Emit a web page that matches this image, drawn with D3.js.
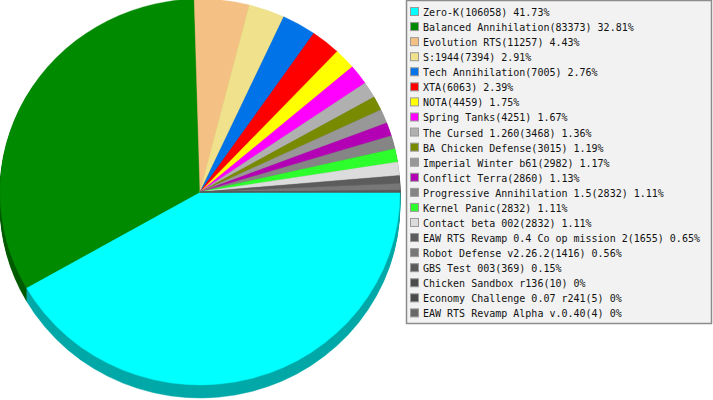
<!DOCTYPE html>
<html><head><meta charset="utf-8">
<script src="https://cdn.jsdelivr.net/npm/d3@7"></script>
<style>html,body{margin:0;padding:0;background:#fff;}svg{display:block;}</style>
</head><body>
<svg id="chart" width="713" height="400"></svg>
<script>
const names = ["Zero-K","Balanced Annihilation","Evolution RTS","S:1944","Tech Annihilation","XTA","NOTA","Spring Tanks","The Cursed 1.260","BA Chicken Defense","Imperial Winter b61","Conflict Terra","Progressive Annihilation 1.5","Kernel Panic","Contact beta 002","EAW RTS Revamp 0.4 Co op mission 2","Robot Defense v2.26.2","GBS Test 003","Chicken Sandbox r136","Economy Challenge 0.07 r241","EAW RTS Revamp Alpha v.0.40"];
const counts = [106058,83373,11257,7394,7005,6063,4459,4251,3468,3015,2982,2860,2832,2832,2832,1655,1416,369,10,5,4];
const colors = ["#00ffff","#008a00","#f5c083","#f0e28c","#0073e8","#ff0000","#ffff00","#ff00ff","#b0b0b0","#788a00","#989898","#b400b4","#858585","#2cff2c","#dcdcdc","#5c5c5c","#777777","#5a5a5a","#4c4c4c","#4a4a4a","#686868"];

const svg = d3.select("#chart");
const total = d3.sum(counts);
const data = names.map((n,i)=>({name:n,value:counts[i],color:colors[i]}));

const cx = 200, cy = 192, rx = 200, ry = 193, depth = 13;
const pie = d3.pie().value(d=>d.value).sort(null).startAngle(Math.PI/2).endAngle(Math.PI/2 + 2*Math.PI);
const arcs = pie(data);
const arc = d3.arc().innerRadius(0).outerRadius(rx);

function dark(c){ const r = d3.rgb(c); return d3.rgb(r.r*0.66, r.g*0.66, r.b*0.66).toString(); }

const pg = svg.append("g");
for (let d = depth; d >= 1; d--) {
  pg.append("g")
    .attr("transform", `translate(${cx},${cy + d}) scale(1,${ry/rx})`)
    .selectAll("path").data(arcs).join("path")
    .attr("d", arc).attr("fill", a=>dark(a.data.color))
    .attr("stroke", a=>dark(a.data.color)).attr("stroke-width", 0.5);
}
pg.append("g")
  .attr("transform", `translate(${cx},${cy}) scale(1,${ry/rx})`)
  .selectAll("path").data(arcs).join("path")
  .attr("d", arc).attr("fill", a=>a.data.color)
  .attr("stroke", a=>a.data.color).attr("stroke-width", 0.4);

// legend
const lg = svg.append("g");
lg.append("rect").attr("x",406.5).attr("y",0.5).attr("width",305).attr("height",323)
  .attr("fill","#f2f2f2").attr("stroke","#8c8c8c").attr("stroke-width",1.5);
const step = 15.07;
const rows = lg.selectAll("g.row").data(data).join("g").attr("class","row");
rows.append("rect").attr("x",410.5).attr("y",(d,i)=>7.5 + i*step).attr("width",8).attr("height",8)
  .attr("fill",d=>d.color).attr("stroke","#999").attr("stroke-width",1);
const fmt = v => { const p = Math.round(v/total*10000)/100; return String(p); };
rows.append("text").attr("x",423).attr("y",(d,i)=>16 + i*step)
  .attr("font-family","DejaVu Sans Mono, monospace").attr("font-size","10px").attr("fill","#111")
  .text(d=>`${d.name}(${d.value}) ${fmt(d.value)}%`);
</script>
</body></html>
